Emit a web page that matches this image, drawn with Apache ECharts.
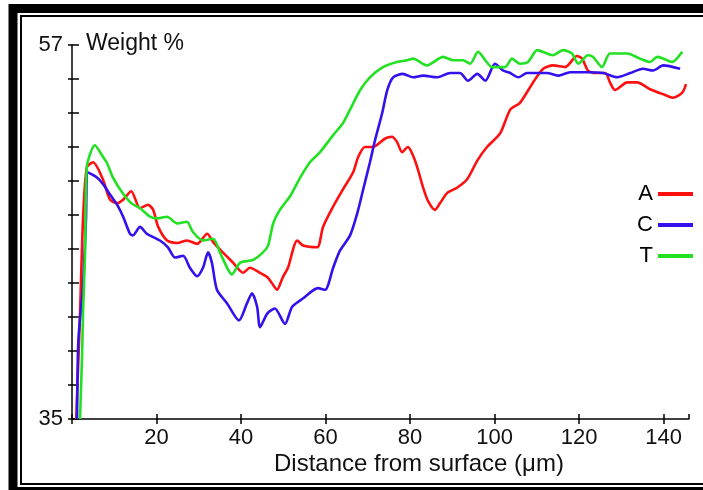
<!DOCTYPE html>
<html>
<head>
<meta charset="utf-8">
<script src="https://cdn.jsdelivr.net/npm/echarts@6/dist/echarts.min.js"></script>
<style>
  html, body { margin: 0; padding: 0; background: #fff; }
  #chart { width: 703px; height: 490px; }
</style>
</head>
<body>
<div id="chart"></div>
<script>
// Series: distance (µm) and weight %
const aDist = [1, 1.9, 2.6, 3.5, 5, 7.3, 9, 10.7, 12.1, 14,
  16.1, 18, 19.2, 20.4, 22.5, 24.9, 27.2, 29.6, 32, 33.4,
  35.7, 38.1, 40.5, 42.1, 44.5, 46.2, 47.3, 48.5, 49.9, 51.1,
  53.3, 54.7, 58, 59.4, 61.8, 64.1, 66.5, 67.7, 69.3, 71.2,
  74.1, 75.7, 76.9, 78.1, 79.5, 80.7, 81.7, 83.1, 84.3, 85.9,
  87.1, 88.8, 91.1, 93.5, 95.9, 98.2, 101.3, 103.7, 106, 109.1,
  111.5, 113.8, 116.7, 119.5, 120.7, 122.1, 123.8, 126.2, 127.3, 128.5,
  131.4, 133.7, 136.8, 139.9, 142.2, 144.4, 145.3]
const aWeight = [35, 41.2, 46.7, 49.8, 50.1, 49.1, 47.9, 47.7, 47.9, 48.4,
  47.4, 47.6, 47.3, 46.3, 45.5, 45.35, 45.5, 45.3, 45.9, 45.4,
  44.8, 44.2, 43.6, 43.9, 43.6, 43.35, 43.0, 42.6, 43.35, 43.9,
  45.5, 45.2, 45.1, 46.3, 47.5, 48.5, 49.5, 50.4, 51.0, 51.0,
  51.5, 51.6, 51.3, 50.7, 51.0, 50.5, 49.8, 48.6, 47.8, 47.3,
  47.7, 48.3, 48.6, 49.1, 50.2, 51.0, 51.8, 53.2, 53.6, 54.8,
  55.6, 55.8, 55.7, 56.35, 56.2, 55.5, 55.35, 55.35, 54.8, 54.35,
  54.8, 54.8, 54.4, 54.1, 53.9, 54.2, 54.7]

const cDist = [1.2, 1.5, 2.6, 3.3, 3.8, 5.9, 7.4, 9.0, 10.7, 12.1,
  13.7, 14.4, 16.1, 17.7, 20.8, 22.7, 24.4, 26.3, 27.9, 29.6,
  31.0, 32.2, 33.1, 34.3, 36.7, 39.5, 41.4, 42.6, 43.8, 44.5,
  46.2, 48.0, 50.4, 52.1, 54.7, 58.2, 59.9, 61.8, 63.4, 65.8,
  67.5, 68.9, 70.5, 71.7, 73.4, 74.6, 76.0, 78.3, 80.7, 83.1,
  86.4, 89.5, 91.8, 93.7, 95.9, 97.8, 100.1, 102.0, 103.7, 105.6,
  107.7, 110.8, 112.4, 115.0, 117.9, 121.9, 125.7, 129.0, 132.1, 135.1,
  137.5, 139.9, 143.9]
const cWeight = [35, 39.6, 42.8, 46.7, 49.5, 49.2, 48.8, 48.2, 47.6, 46.9,
  45.9, 45.8, 46.3, 45.9, 45.5, 45.1, 44.5, 44.6, 43.9, 43.4,
  43.9, 44.8, 44.2, 42.6, 41.8, 40.8, 41.8, 42.4, 41.6, 40.4,
  41.2, 41.5, 40.6, 41.6, 42.1, 42.7, 42.6, 43.9, 44.9, 45.8,
  47.1, 48.5, 50.1, 51.4, 53.0, 54.35, 55.1, 55.3, 55.1, 55.2,
  55.1, 55.35, 55.35, 54.9, 55.3, 54.9, 55.9, 55.5, 55.35, 55.1,
  55.35, 55.35, 55.35, 55.2, 55.4, 55.4, 55.35, 55.1, 55.35, 55.6,
  55.5, 55.8, 55.6]

const tDist = [1.9, 2.4, 2.6, 3.1, 3.5, 5.4, 7.4, 8.2, 9.7, 11.8,
  14.0, 16.1, 18.5, 20.1, 22.5, 24.9, 27.2, 28.6, 31.0, 33.4,
  35.0, 36.7, 37.8, 39.8, 42.8, 45.2, 46.4, 47.6, 49.2, 51.6,
  54.0, 56.3, 58.7, 61.8, 64.1, 65.8, 68.2, 70.5, 73.6, 76.9,
  79.3, 80.7, 84.0, 87.8, 90.2, 92.5, 94.2, 96.1, 97.8, 99.4,
  102.5, 104.1, 106.0, 107.9, 110.1, 112.4, 113.8, 116.2, 118.3, 119.8,
  122.1, 123.3, 125.4, 127.3, 131.4, 134.4, 136.8, 138.5, 139.9, 142.0,
  144.4]
const tWeight = [35, 38.9, 41.2, 44.8, 49.8, 51.1, 50.4, 50.1, 49.2, 48.35,
  47.7, 47.4, 46.9, 46.8, 46.9, 46.5, 46.6, 46.0, 45.5, 45.6,
  44.8, 43.9, 43.5, 44.2, 44.35, 44.8, 45.2, 46.5, 47.3, 48.1,
  49.2, 50.1, 50.7, 51.7, 52.4, 53.2, 54.35, 55.1, 55.7, 56.0,
  56.1, 56.2, 55.8, 56.3, 56.1, 56.1, 55.9, 56.6, 56.1, 55.7,
  55.7, 56.2, 55.9, 56.0, 56.7, 56.5, 56.4, 56.7, 56.5, 55.9,
  56.4, 56.3, 55.7, 56.5, 56.5, 56.2, 56.0, 56.3, 56.2, 56.0,
  56.6]

const seriesNames = ['A', 'C', 'T']
const seriesColors = ['#ff1010', '#3311ee', '#22e022']
const yTickLabels = [35, 57]

const font = '"Liberation Sans", Arial, sans-serif'
const zip = (xs, ys) => xs.map((x, i) => [x, ys[i]])

const chart = echarts.init(document.getElementById('chart'), null, { renderer: 'canvas' })

const lineSeries = (name, data, idx) => ({
  name,
  type: 'line',
  data,
  smooth: 0.25,
  showSymbol: false,
  symbol: 'none',
  lineStyle: { width: 2.6, color: seriesColors[idx] },
  itemStyle: { color: seriesColors[idx] },
  clip: true,
  animation: false
})

const axisLine = { show: true, lineStyle: { color: '#000', width: 1.5 } }

chart.setOption({
  backgroundColor: '#fff',
  animation: false,
  grid: { left: 72, right: 14, top: 45, bottom: 71 },
  legend: {
    data: seriesNames,
    orient: 'vertical',
    right: 10,
    top: 183,
    padding: 0,
    align: 'right',
    icon: 'rect',
    itemWidth: 35,
    itemHeight: 4,
    itemGap: 9,
    textStyle: { fontFamily: font, fontSize: 22, color: '#000' }
  },
  xAxis: [{
    type: 'value', min: 0, max: 146, interval: 20,
    axisLine,
    axisTick: { show: true, length: 5, lineStyle: { color: '#000', width: 1.5 } },
    axisLabel: {
      margin: 8, fontFamily: font, fontSize: 22, color: '#111',
      formatter: v => (v === 0 ? '' : String(v)), showMaxLabel: false
    },
    splitLine: { show: false }
  }, {
    type: 'value', min: 0, max: 146, interval: 20, position: 'bottom',
    axisLine: { show: false },
    axisTick: { show: true, inside: true, length: 5, lineStyle: { color: '#000', width: 1.5 } },
    axisLabel: { show: false },
    splitLine: { show: false }
  }],
  yAxis: [{
    type: 'value', min: 35, max: 57, interval: 2,
    axisLine,
    axisTick: { show: true, length: 4, lineStyle: { color: '#000', width: 1.5 } },
    axisLabel: {
      margin: 9, fontFamily: font, fontSize: 22, color: '#111',
      formatter: v => (yTickLabels.includes(v) ? String(v) : '')
    },
    splitLine: { show: false }
  }, {
    type: 'value', min: 35, max: 57, interval: 2, position: 'left',
    axisLine: { show: false },
    axisTick: { show: true, inside: true, length: 7, lineStyle: { color: '#000', width: 1.5 } },
    axisLabel: { show: false },
    splitLine: { show: false }
  }],
  series: [
    lineSeries('A', zip(aDist, aWeight), 0),
    lineSeries('C', zip(cDist, cWeight), 1),
    lineSeries('T', zip(tDist, tWeight), 2)
  ],
  graphic: [
    {
      type: 'rect', silent: true,
      shape: { x: 13, y: 8.5, width: 720, height: 483 },
      style: { fill: 'none', stroke: '#000', lineWidth: 9 }
    },
    {
      type: 'rect', silent: true,
      shape: { x: 21, y: 16, width: 720, height: 468 },
      style: { fill: 'none', stroke: '#000', lineWidth: 2 }
    },
    {
      type: 'text', left: 86, top: 32,
      style: { text: 'Weight %', font: '23px ' + font, fill: '#111' }
    },
    {
      type: 'text', left: 274, top: 452,
      style: { text: 'Distance from surface (\u03bcm)', font: '24px ' + font, fill: '#111' }
    }
  ]
})
</script>
</body>
</html>
